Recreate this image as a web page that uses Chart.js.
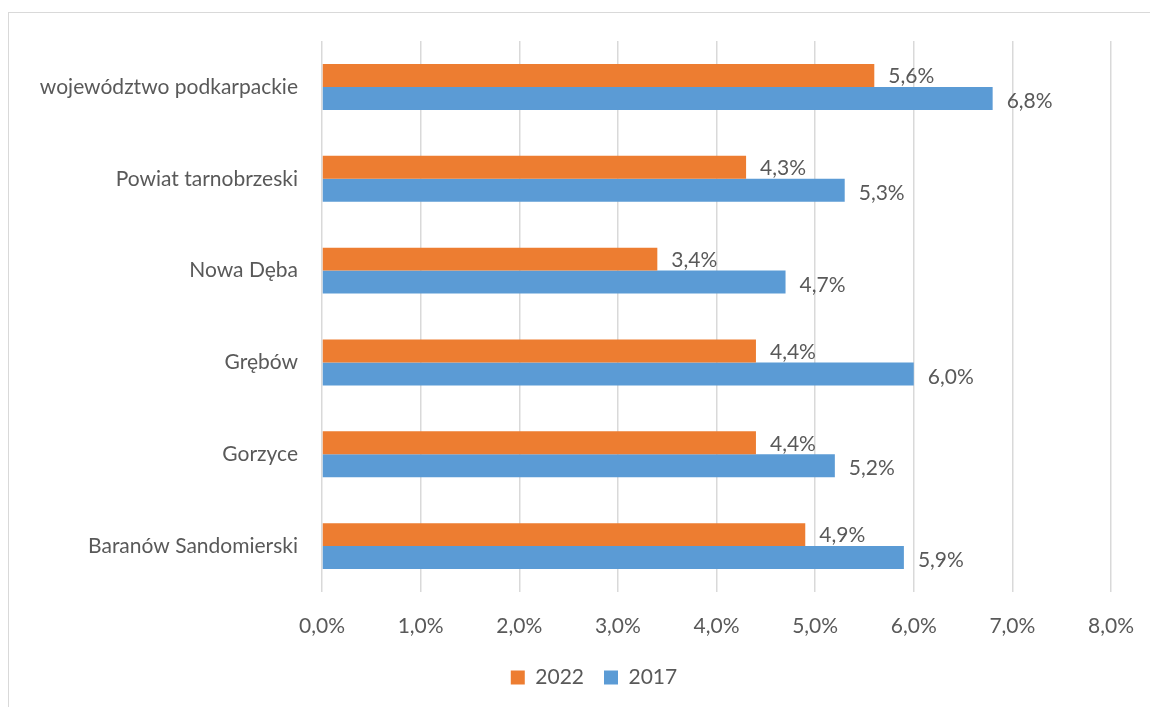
<!DOCTYPE html>
<html>
<head>
<meta charset="utf-8">
<script src="https://cdn.jsdelivr.net/npm/chart.js@4"></script>
<style>
  html, body { margin: 0; padding: 0; background: #fff; }
  #wrap { width: 1150px; height: 707px; }
</style>
</head>
<body>
<div id="wrap"><canvas id="usageChart" width="1150" height="707"></canvas></div>
<script>
const categories = ["województwo podkarpackie", "Powiat tarnobrzeski", "Nowa Dęba", "Grębów", "Gorzyce", "Baranów Sandomierski"];
const values2022 = [5.6, 4.3, 3.4, 4.4, 4.4, 4.9];
const values2017 = [6.8, 5.3, 4.7, 6.0, 5.2, 5.9];
const xTicks = [0, 1, 2, 3, 4, 5, 6, 7, 8];

const fmt = v => v.toFixed(1).replace(".", ",") + "%";
const FONT = "Lato, 'Liberation Sans', sans-serif";
const FSIZE = 21;
const TEXT = "#595959";

// frame round the chart, like the Excel chart area
const framePlugin = {
  id: "frame",
  beforeDraw(chart) {
    const ctx = chart.ctx;
    ctx.save();
    ctx.strokeStyle = "#d9d9d9";
    ctx.lineWidth = 1;
    ctx.strokeRect(8.5, 12.5, 1300, 900);
    ctx.restore();
  },
  afterLayout(chart) {
    // legend sits a bit right of the canvas centre in the original
    chart.legend.left += 34;
    chart.legend.right += 34;
  }
};

// value labels to the right of every bar
const labelPlugin = {
  id: "barLabels",
  afterDatasetsDraw(chart) {
    const ctx = chart.ctx;
    ctx.save();
    ctx.font = FSIZE + "px " + FONT;
    ctx.fillStyle = TEXT;
    ctx.textAlign = "left";
    ctx.textBaseline = "middle";
    chart.data.datasets.forEach((ds, i) => {
      chart.getDatasetMeta(i).data.forEach((bar, j) => {
        ctx.fillText(fmt(ds.data[j]), bar.x + 14, bar.y + (i === 0 ? 1 : 3));
      });
    });
    ctx.restore();
  }
};

const ctx = document.getElementById("usageChart").getContext("2d");
new Chart(ctx, {
  type: "bar",
  data: {
    labels: categories,
    datasets: [
      { label: "2022", data: values2022, backgroundColor: "#ED7D31" },
      { label: "2017", data: values2017, backgroundColor: "#5B9BD5" }
    ]
  },
  options: {
    indexAxis: "y",
    responsive: false,
    animation: false,
    datasets: { bar: { categoryPercentage: 0.5, barPercentage: 1.0 } },
    layout: { padding: { top: 41, left: 9, right: 39, bottom: 9 } },
    scales: {
      x: {
        min: 0,
        max: 8,
        afterBuildTicks: s => { s.ticks = xTicks.map(v => ({ value: v })); },
        ticks: { callback: v => fmt(v), color: TEXT, font: { family: FONT, size: FSIZE }, padding: 22 },
        grid: { color: "#d9d9d9", lineWidth: 1.5, drawTicks: false },
        border: { display: false },
        afterFit: s => { s.height = 55; s.paddingLeft = 0; s.paddingRight = 0; }
      },
      y: {
        ticks: { color: TEXT, font: { family: FONT, size: FSIZE }, padding: 24 },
        grid: { display: false, drawTicks: false },
        border: { display: false },
        afterFit: s => { s.width = 313; }
      }
    },
    plugins: {
      legend: {
        position: "bottom",
        labels: { boxWidth: 14, boxHeight: 14, color: TEXT, font: { family: FONT, size: FSIZE }, padding: 20 }
      },
      tooltip: { enabled: false }
    }
  },
  plugins: [framePlugin, labelPlugin]
});
</script>
</body>
</html>
